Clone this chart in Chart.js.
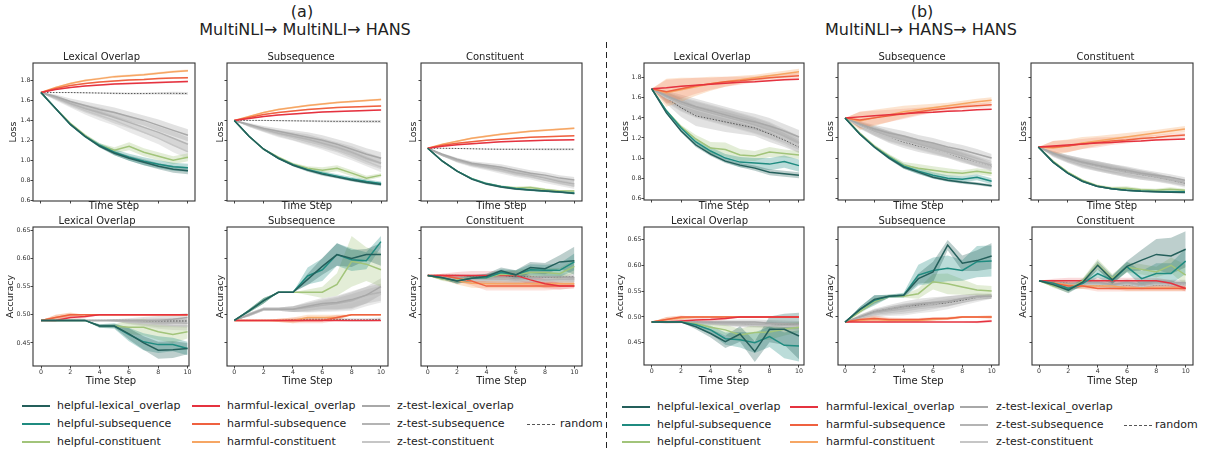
<!DOCTYPE html>
<html>
<head>
<meta charset="utf-8">
<script src="https://cdn.jsdelivr.net/npm/chart.js@4.4.1/dist/chart.umd.min.js"></script>
<style>
  body { margin: 0; background: #fff; font-family: "DejaVu Sans", sans-serif; }
  #page { position: relative; width: 1210px; height: 457px; overflow: hidden; background: #fff; }
  #page canvas { position: absolute; }
  .txt { position: absolute; white-space: nowrap; color: #222; line-height: 1; }
  .leg { position: absolute; white-space: nowrap; font-size: 11px; color: #222; line-height: 12px; }
  .leg i { position: absolute; top: 5px; width: 28px; height: 2px; }
</style>
</head>
<body>
<div id="page">
  <div class="txt" style="left:302px;top:4px;font-size:16px;transform:translateX(-50%)">(a)</div>
  <div class="txt" style="left:305px;top:22px;font-size:16px;transform:translateX(-50%)">MultiNLI→ MultiNLI→ HANS</div>
  <div class="txt" style="left:922px;top:4px;font-size:16px;transform:translateX(-50%)">(b)</div>
  <div class="txt" style="left:921px;top:22px;font-size:16px;transform:translateX(-50%)">MultiNLI→ HANS→ HANS</div>
  <svg style="position:absolute;left:0;top:0" width="1210" height="457">
    <line x1="606.5" y1="42" x2="606.5" y2="452" stroke="#222" stroke-width="1" stroke-dasharray="6,4"/>
  </svg>
</div>
<script>
// series order used by every panel below
const seriesNames = [
  'helpful-lexical_overlap', 'helpful-subsequence', 'helpful-constituent',
  'harmful-lexical_overlap', 'harmful-subsequence', 'harmful-constituent',
  'z-test-lexical_overlap', 'z-test-subsequence', 'z-test-constituent', 'random'
]
const seriesColors = ['#245f5b', '#1f8b80', '#a2c47a', '#e5323f', '#ef6140', '#f6a664', '#a8a8a8', '#b4b4b4', '#c6c6c6', '#555555']
const bandColors = [
  'rgba(36,95,91,0.30)', 'rgba(31,139,128,0.30)', 'rgba(162,196,122,0.30)',
  'rgba(229,50,63,0.18)', 'rgba(239,97,64,0.18)', 'rgba(246,166,100,0.30)',
  'rgba(150,150,150,0.28)', 'rgba(160,160,160,0.28)', 'rgba(175,175,175,0.28)', 'rgba(150,150,150,0.28)'
]

const timeSteps = [0, 1, 2, 3, 4, 5, 6, 7, 8, 9, 10]
const stepTicks = [0, 2, 4, 6, 8, 10]
const lossTicks = [0.6, 0.8, 1.0, 1.2, 1.4, 1.6, 1.8]
const accTicks = [0.45, 0.50, 0.55, 0.60, 0.65]
const subTitles = ['Lexical Overlap', 'Subsequence', 'Constituent']

// (a) MultiNLI -> MultiNLI -> HANS, loss
const aLossLex = [
  [1.68, 1.52, 1.36, 1.24, 1.14, 1.07, 1.02, 0.98, 0.94, 0.91, 0.895],
  [1.68, 1.52, 1.36, 1.24, 1.15, 1.08, 1.03, 0.99, 0.96, 0.935, 0.925],
  [1.68, 1.52, 1.37, 1.25, 1.15, 1.10, 1.14, 1.08, 1.04, 1.00, 1.03],
  [1.68, 1.71, 1.73, 1.745, 1.755, 1.765, 1.77, 1.775, 1.78, 1.785, 1.79],
  [1.68, 1.72, 1.75, 1.77, 1.785, 1.795, 1.805, 1.81, 1.82, 1.825, 1.83],
  [1.68, 1.73, 1.77, 1.80, 1.82, 1.84, 1.85, 1.86, 1.875, 1.89, 1.90],
  [1.68, 1.64, 1.59, 1.55, 1.51, 1.48, 1.44, 1.40, 1.35, 1.30, 1.25],
  [1.68, 1.63, 1.57, 1.52, 1.48, 1.43, 1.38, 1.33, 1.28, 1.22, 1.16],
  [1.68, 1.62, 1.56, 1.50, 1.45, 1.40, 1.34, 1.28, 1.22, 1.15, 1.085],
  [1.68, 1.68, 1.68, 1.678, 1.675, 1.672, 1.67, 1.67, 1.672, 1.672, 1.67]
]
const aLossLexSd = [
  [0, 0.005, 0.01, 0.01, 0.015, 0.02, 0.025, 0.03, 0.03, 0.035, 0.035],
  [0, 0.005, 0.01, 0.015, 0.02, 0.03, 0.035, 0.04, 0.04, 0.04, 0.04],
  [0, 0.005, 0.01, 0.015, 0.02, 0.03, 0.04, 0.04, 0.04, 0.04, 0.04],
  [0, 0.005, 0.005, 0.007, 0.008, 0.01, 0.01, 0.01, 0.01, 0.01, 0.01],
  [0, 0.005, 0.005, 0.007, 0.008, 0.01, 0.01, 0.01, 0.01, 0.01, 0.01],
  [0, 0.008, 0.01, 0.012, 0.012, 0.012, 0.012, 0.012, 0.012, 0.012, 0.012],
  [0, 0.02, 0.03, 0.04, 0.05, 0.05, 0.05, 0.05, 0.06, 0.06, 0.06],
  [0, 0.02, 0.03, 0.04, 0.05, 0.06, 0.06, 0.06, 0.06, 0.07, 0.07],
  [0, 0.02, 0.03, 0.04, 0.05, 0.05, 0.06, 0.06, 0.06, 0.07, 0.07],
  [0, 0.003, 0.005, 0.007, 0.008, 0.01, 0.01, 0.01, 0.012, 0.015, 0.015]
]
const aLossSub = [
  [1.40, 1.24, 1.11, 1.02, 0.95, 0.90, 0.86, 0.83, 0.80, 0.775, 0.755],
  [1.40, 1.24, 1.11, 1.02, 0.955, 0.905, 0.87, 0.84, 0.81, 0.785, 0.765],
  [1.40, 1.24, 1.11, 1.03, 0.96, 0.92, 0.90, 0.92, 0.87, 0.82, 0.85],
  [1.40, 1.42, 1.44, 1.455, 1.465, 1.475, 1.485, 1.49, 1.495, 1.50, 1.505],
  [1.40, 1.43, 1.46, 1.48, 1.495, 1.51, 1.52, 1.53, 1.535, 1.54, 1.545],
  [1.40, 1.44, 1.48, 1.51, 1.53, 1.55, 1.565, 1.58, 1.59, 1.60, 1.61],
  [1.40, 1.36, 1.32, 1.29, 1.26, 1.23, 1.20, 1.16, 1.11, 1.06, 1.02],
  [1.40, 1.35, 1.31, 1.27, 1.24, 1.21, 1.17, 1.13, 1.08, 1.02, 0.97],
  [1.40, 1.35, 1.30, 1.26, 1.23, 1.19, 1.15, 1.10, 1.05, 0.99, 0.93],
  [1.40, 1.40, 1.40, 1.398, 1.396, 1.394, 1.392, 1.39, 1.39, 1.39, 1.39]
]
const aLossSubSd = [
  [0, 0.005, 0.008, 0.01, 0.012, 0.015, 0.015, 0.015, 0.015, 0.015, 0.015],
  [0, 0.005, 0.008, 0.01, 0.012, 0.015, 0.018, 0.02, 0.02, 0.02, 0.02],
  [0, 0.005, 0.008, 0.01, 0.015, 0.02, 0.03, 0.03, 0.03, 0.025, 0.02],
  [0, 0.004, 0.005, 0.006, 0.007, 0.008, 0.008, 0.008, 0.008, 0.008, 0.008],
  [0, 0.004, 0.005, 0.006, 0.007, 0.008, 0.008, 0.008, 0.008, 0.008, 0.008],
  [0, 0.006, 0.008, 0.01, 0.01, 0.01, 0.01, 0.01, 0.01, 0.01, 0.01],
  [0, 0.015, 0.025, 0.03, 0.04, 0.05, 0.05, 0.05, 0.06, 0.06, 0.06],
  [0, 0.015, 0.025, 0.03, 0.04, 0.05, 0.05, 0.05, 0.06, 0.06, 0.06],
  [0, 0.015, 0.02, 0.03, 0.035, 0.04, 0.045, 0.05, 0.05, 0.05, 0.05],
  [0, 0.003, 0.005, 0.006, 0.008, 0.01, 0.01, 0.012, 0.012, 0.015, 0.015]
]
const aLossCon = [
  [1.12, 0.99, 0.89, 0.81, 0.76, 0.73, 0.71, 0.70, 0.69, 0.68, 0.665],
  [1.12, 0.99, 0.89, 0.815, 0.765, 0.735, 0.715, 0.70, 0.69, 0.68, 0.67],
  [1.12, 0.99, 0.89, 0.815, 0.765, 0.735, 0.72, 0.725, 0.705, 0.69, 0.69],
  [1.12, 1.14, 1.155, 1.165, 1.175, 1.185, 1.19, 1.195, 1.20, 1.203, 1.205],
  [1.12, 1.15, 1.17, 1.185, 1.20, 1.21, 1.22, 1.23, 1.235, 1.24, 1.245],
  [1.12, 1.16, 1.19, 1.22, 1.24, 1.26, 1.275, 1.29, 1.30, 1.31, 1.32],
  [1.12, 1.06, 1.01, 0.97, 0.95, 0.93, 0.90, 0.87, 0.85, 0.82, 0.80],
  [1.12, 1.05, 1.00, 0.96, 0.935, 0.91, 0.875, 0.85, 0.82, 0.785, 0.76],
  [1.12, 1.05, 0.99, 0.95, 0.925, 0.895, 0.86, 0.835, 0.80, 0.77, 0.74],
  [1.12, 1.12, 1.118, 1.115, 1.112, 1.11, 1.11, 1.11, 1.11, 1.11, 1.11]
]
const aLossConSd = [
  [0, 0.004, 0.006, 0.008, 0.01, 0.01, 0.01, 0.01, 0.01, 0.01, 0.01],
  [0, 0.004, 0.006, 0.008, 0.01, 0.01, 0.01, 0.01, 0.01, 0.01, 0.01],
  [0, 0.004, 0.006, 0.008, 0.01, 0.012, 0.015, 0.015, 0.012, 0.01, 0.01],
  [0, 0.004, 0.005, 0.006, 0.006, 0.006, 0.006, 0.006, 0.006, 0.006, 0.006],
  [0, 0.004, 0.005, 0.006, 0.006, 0.006, 0.006, 0.006, 0.006, 0.006, 0.006],
  [0, 0.006, 0.008, 0.01, 0.01, 0.01, 0.01, 0.01, 0.01, 0.01, 0.01],
  [0, 0.01, 0.015, 0.02, 0.025, 0.03, 0.03, 0.03, 0.03, 0.03, 0.03],
  [0, 0.01, 0.015, 0.02, 0.025, 0.03, 0.03, 0.03, 0.03, 0.03, 0.03],
  [0, 0.01, 0.015, 0.02, 0.025, 0.03, 0.03, 0.03, 0.03, 0.03, 0.03],
  [0, 0.003, 0.004, 0.005, 0.006, 0.007, 0.008, 0.008, 0.01, 0.01, 0.01]
]

// (a) accuracy
const aAccLex = [
  [0.49, 0.49, 0.49, 0.49, 0.48, 0.48, 0.466, 0.45, 0.437, 0.438, 0.44],
  [0.49, 0.49, 0.49, 0.49, 0.48, 0.48, 0.465, 0.452, 0.447, 0.447, 0.44],
  [0.49, 0.49, 0.49, 0.49, 0.48, 0.48, 0.478, 0.478, 0.47, 0.465, 0.47],
  [0.49, 0.49, 0.495, 0.497, 0.50, 0.50, 0.50, 0.50, 0.50, 0.50, 0.50],
  [0.49, 0.495, 0.50, 0.50, 0.50, 0.50, 0.50, 0.50, 0.50, 0.50, 0.50],
  [0.49, 0.495, 0.50, 0.50, 0.50, 0.50, 0.50, 0.50, 0.50, 0.50, 0.50],
  [0.49, 0.49, 0.49, 0.49, 0.49, 0.49, 0.49, 0.49, 0.49, 0.492, 0.495],
  [0.49, 0.49, 0.49, 0.49, 0.49, 0.49, 0.488, 0.487, 0.486, 0.486, 0.485],
  [0.49, 0.49, 0.49, 0.49, 0.49, 0.49, 0.487, 0.485, 0.483, 0.481, 0.48],
  [0.49, 0.49, 0.49, 0.49, 0.49, 0.49, 0.49, 0.489, 0.489, 0.489, 0.489]
]
const aAccLexSd = [
  [0, 0, 0, 0, 0.003, 0.003, 0.01, 0.012, 0.015, 0.015, 0.01],
  [0, 0, 0, 0, 0.003, 0.005, 0.012, 0.015, 0.015, 0.012, 0.012],
  [0, 0, 0, 0, 0.002, 0.003, 0.012, 0.015, 0.015, 0.015, 0.012],
  [0, 0.003, 0.005, 0.003, 0, 0, 0, 0, 0, 0, 0],
  [0, 0.005, 0.003, 0, 0, 0, 0, 0, 0, 0, 0],
  [0, 0.005, 0.004, 0, 0, 0, 0, 0, 0, 0, 0],
  [0, 0, 0, 0, 0, 0.002, 0.004, 0.006, 0.008, 0.008, 0.008],
  [0, 0, 0, 0, 0, 0.002, 0.004, 0.006, 0.008, 0.008, 0.008],
  [0, 0, 0, 0, 0, 0.002, 0.004, 0.006, 0.008, 0.008, 0.008],
  [0, 0, 0, 0, 0, 0.001, 0.002, 0.002, 0.003, 0.003, 0.003]
]
const aAccSub = [
  [0.49, 0.507, 0.525, 0.54, 0.54, 0.563, 0.586, 0.607, 0.60, 0.607, 0.607],
  [0.49, 0.507, 0.525, 0.54, 0.54, 0.569, 0.58, 0.607, 0.598, 0.596, 0.63],
  [0.49, 0.507, 0.525, 0.54, 0.54, 0.54, 0.54, 0.554, 0.595, 0.59, 0.58],
  [0.49, 0.49, 0.49, 0.49, 0.49, 0.49, 0.49, 0.49, 0.49, 0.49, 0.49],
  [0.49, 0.49, 0.49, 0.49, 0.49, 0.49, 0.49, 0.495, 0.50, 0.50, 0.50],
  [0.49, 0.49, 0.49, 0.49, 0.49, 0.495, 0.495, 0.495, 0.50, 0.50, 0.50],
  [0.49, 0.50, 0.51, 0.51, 0.51, 0.515, 0.52, 0.522, 0.527, 0.535, 0.55],
  [0.49, 0.50, 0.51, 0.51, 0.51, 0.513, 0.517, 0.52, 0.525, 0.535, 0.54],
  [0.49, 0.50, 0.51, 0.51, 0.51, 0.512, 0.515, 0.518, 0.522, 0.53, 0.537],
  [0.49, 0.49, 0.49, 0.49, 0.491, 0.492, 0.492, 0.492, 0.491, 0.491, 0.492]
]
const aAccSubSd = [
  [0, 0.003, 0.005, 0, 0, 0.01, 0.015, 0.02, 0.015, 0.01, 0.02],
  [0, 0.003, 0.005, 0, 0, 0.015, 0.02, 0.02, 0.02, 0.015, 0.01],
  [0, 0.003, 0.005, 0, 0, 0.005, 0.01, 0.02, 0.045, 0.03, 0.03],
  [0, 0, 0, 0, 0, 0, 0, 0, 0, 0, 0],
  [0, 0, 0, 0.003, 0.005, 0.005, 0.005, 0.005, 0, 0, 0],
  [0, 0, 0, 0.003, 0.005, 0.005, 0.005, 0.005, 0, 0, 0],
  [0, 0.003, 0.003, 0.003, 0.005, 0.008, 0.01, 0.012, 0.015, 0.015, 0.015],
  [0, 0.003, 0.003, 0.003, 0.005, 0.008, 0.01, 0.012, 0.015, 0.015, 0.015],
  [0, 0.003, 0.003, 0.003, 0.005, 0.008, 0.01, 0.012, 0.015, 0.015, 0.015],
  [0, 0, 0, 0, 0.002, 0.003, 0.003, 0.003, 0.003, 0.003, 0.003]
]
const aAccCon = [
  [0.57, 0.566, 0.56, 0.565, 0.568, 0.578, 0.571, 0.584, 0.582, 0.594, 0.596],
  [0.57, 0.566, 0.56, 0.565, 0.566, 0.575, 0.571, 0.58, 0.579, 0.579, 0.594],
  [0.57, 0.563, 0.562, 0.565, 0.566, 0.572, 0.571, 0.575, 0.575, 0.573, 0.586],
  [0.57, 0.57, 0.57, 0.57, 0.57, 0.57, 0.57, 0.562, 0.555, 0.551, 0.551],
  [0.57, 0.57, 0.565, 0.56, 0.551, 0.551, 0.551, 0.551, 0.551, 0.551, 0.551],
  [0.57, 0.565, 0.56, 0.556, 0.555, 0.555, 0.555, 0.555, 0.555, 0.555, 0.555],
  [0.57, 0.568, 0.566, 0.565, 0.566, 0.568, 0.565, 0.566, 0.568, 0.567, 0.566],
  [0.57, 0.567, 0.564, 0.563, 0.563, 0.564, 0.562, 0.563, 0.562, 0.563, 0.563],
  [0.57, 0.566, 0.562, 0.561, 0.562, 0.561, 0.56, 0.561, 0.56, 0.561, 0.56],
  [0.57, 0.57, 0.57, 0.569, 0.569, 0.568, 0.568, 0.567, 0.567, 0.567, 0.567]
]
const aAccConSd = [
  [0, 0.003, 0.005, 0.005, 0.005, 0.006, 0.008, 0.01, 0.01, 0.012, 0.025],
  [0, 0.003, 0.005, 0.005, 0.005, 0.006, 0.008, 0.01, 0.01, 0.012, 0.015],
  [0, 0.003, 0.005, 0.005, 0.005, 0.006, 0.008, 0.008, 0.008, 0.01, 0.012],
  [0, 0.003, 0.006, 0.008, 0.008, 0.008, 0.008, 0.008, 0.008, 0.006, 0.004],
  [0, 0.003, 0.006, 0.008, 0.008, 0.008, 0.008, 0.008, 0.008, 0.006, 0.004],
  [0, 0.003, 0.006, 0.008, 0.008, 0.008, 0.008, 0.008, 0.008, 0.006, 0.004],
  [0, 0.003, 0.005, 0.006, 0.007, 0.007, 0.007, 0.007, 0.007, 0.007, 0.007],
  [0, 0.003, 0.005, 0.006, 0.007, 0.007, 0.007, 0.007, 0.007, 0.007, 0.007],
  [0, 0.003, 0.005, 0.006, 0.007, 0.007, 0.007, 0.007, 0.007, 0.007, 0.007],
  [0, 0.001, 0.002, 0.002, 0.002, 0.002, 0.002, 0.002, 0.002, 0.002, 0.002]
]

// (b) MultiNLI -> HANS -> HANS, loss
const bLossLex = [
  [1.69, 1.45, 1.27, 1.13, 1.04, 0.97, 0.93, 0.90, 0.86, 0.845, 0.83],
  [1.69, 1.47, 1.30, 1.16, 1.07, 1.00, 0.96, 0.95, 0.94, 0.965, 0.925],
  [1.69, 1.47, 1.31, 1.19, 1.10, 1.085, 1.03, 1.02, 1.06, 1.045, 1.03],
  [1.69, 1.70, 1.715, 1.725, 1.735, 1.745, 1.755, 1.76, 1.77, 1.78, 1.785],
  [1.69, 1.66, 1.69, 1.72, 1.74, 1.76, 1.77, 1.785, 1.80, 1.81, 1.82],
  [1.69, 1.65, 1.68, 1.71, 1.74, 1.76, 1.78, 1.80, 1.82, 1.84, 1.86],
  [1.69, 1.62, 1.56, 1.51, 1.47, 1.43, 1.39, 1.36, 1.32, 1.27, 1.21],
  [1.69, 1.61, 1.54, 1.49, 1.45, 1.41, 1.37, 1.33, 1.28, 1.22, 1.15],
  [1.69, 1.60, 1.53, 1.48, 1.44, 1.40, 1.36, 1.32, 1.27, 1.20, 1.12],
  [1.69, 1.60, 1.50, 1.42, 1.39, 1.36, 1.33, 1.30, 1.24, 1.18, 1.11]
]
const bLossLexSd = [
  [0, 0.01, 0.015, 0.02, 0.02, 0.02, 0.02, 0.025, 0.03, 0.03, 0.03],
  [0, 0.01, 0.02, 0.03, 0.04, 0.04, 0.05, 0.05, 0.06, 0.06, 0.06],
  [0, 0.01, 0.02, 0.04, 0.06, 0.07, 0.06, 0.05, 0.05, 0.04, 0.04],
  [0, 0.005, 0.005, 0.005, 0.005, 0.005, 0.005, 0.005, 0.005, 0.005, 0.005],
  [0, 0.12, 0.10, 0.08, 0.06, 0.05, 0.04, 0.03, 0.03, 0.03, 0.03],
  [0, 0.14, 0.12, 0.09, 0.07, 0.05, 0.04, 0.03, 0.03, 0.03, 0.03],
  [0, 0.05, 0.07, 0.08, 0.08, 0.08, 0.08, 0.08, 0.08, 0.07, 0.07],
  [0, 0.05, 0.07, 0.08, 0.08, 0.08, 0.08, 0.08, 0.08, 0.07, 0.07],
  [0, 0.05, 0.07, 0.08, 0.08, 0.08, 0.08, 0.08, 0.08, 0.07, 0.07],
  [0, 0.06, 0.09, 0.10, 0.10, 0.10, 0.09, 0.08, 0.08, 0.07, 0.06]
]
const bLossSub = [
  [1.40, 1.24, 1.11, 1.00, 0.91, 0.86, 0.81, 0.78, 0.76, 0.745, 0.725],
  [1.40, 1.24, 1.11, 1.01, 0.92, 0.87, 0.83, 0.80, 0.79, 0.81, 0.77],
  [1.40, 1.25, 1.12, 1.02, 0.93, 0.90, 0.88, 0.86, 0.85, 0.87, 0.85],
  [1.40, 1.41, 1.42, 1.43, 1.44, 1.45, 1.455, 1.465, 1.47, 1.48, 1.485],
  [1.40, 1.38, 1.40, 1.42, 1.44, 1.46, 1.48, 1.495, 1.51, 1.52, 1.53],
  [1.40, 1.37, 1.40, 1.43, 1.46, 1.48, 1.50, 1.52, 1.54, 1.56, 1.575],
  [1.40, 1.34, 1.29, 1.25, 1.22, 1.18, 1.15, 1.11, 1.08, 1.04, 1.00],
  [1.40, 1.33, 1.27, 1.22, 1.18, 1.14, 1.10, 1.06, 1.02, 0.97, 0.93],
  [1.40, 1.32, 1.26, 1.21, 1.17, 1.13, 1.09, 1.05, 1.01, 0.96, 0.91],
  [1.40, 1.33, 1.27, 1.21, 1.16, 1.12, 1.09, 1.05, 1.00, 0.96, 0.915]
]
const bLossSubSd = [
  [0, 0.01, 0.01, 0.015, 0.015, 0.015, 0.015, 0.015, 0.015, 0.015, 0.015],
  [0, 0.01, 0.015, 0.02, 0.025, 0.03, 0.03, 0.03, 0.03, 0.03, 0.03],
  [0, 0.01, 0.015, 0.02, 0.03, 0.04, 0.04, 0.04, 0.03, 0.03, 0.03],
  [0, 0.004, 0.004, 0.004, 0.004, 0.004, 0.004, 0.004, 0.004, 0.004, 0.004],
  [0, 0.08, 0.07, 0.06, 0.05, 0.04, 0.03, 0.03, 0.025, 0.025, 0.025],
  [0, 0.09, 0.08, 0.07, 0.06, 0.05, 0.04, 0.03, 0.03, 0.03, 0.03],
  [0, 0.03, 0.04, 0.05, 0.05, 0.05, 0.05, 0.05, 0.05, 0.05, 0.04],
  [0, 0.03, 0.04, 0.05, 0.05, 0.05, 0.05, 0.05, 0.05, 0.05, 0.04],
  [0, 0.03, 0.04, 0.05, 0.05, 0.05, 0.05, 0.05, 0.05, 0.05, 0.04],
  [0, 0.03, 0.05, 0.06, 0.06, 0.06, 0.06, 0.05, 0.05, 0.04, 0.04]
]
const bLossCon = [
  [1.11, 0.96, 0.85, 0.77, 0.72, 0.695, 0.68, 0.67, 0.665, 0.66, 0.657],
  [1.11, 0.96, 0.85, 0.77, 0.72, 0.695, 0.68, 0.672, 0.668, 0.665, 0.665],
  [1.11, 0.97, 0.86, 0.78, 0.725, 0.70, 0.70, 0.685, 0.68, 0.69, 0.68],
  [1.11, 1.12, 1.13, 1.14, 1.15, 1.155, 1.165, 1.17, 1.18, 1.185, 1.19],
  [1.11, 1.11, 1.12, 1.14, 1.155, 1.17, 1.18, 1.195, 1.205, 1.22, 1.23],
  [1.11, 1.10, 1.12, 1.15, 1.17, 1.19, 1.21, 1.23, 1.25, 1.27, 1.29],
  [1.11, 1.05, 1.00, 0.96, 0.93, 0.90, 0.88, 0.85, 0.83, 0.81, 0.78],
  [1.11, 1.04, 0.99, 0.95, 0.92, 0.89, 0.86, 0.84, 0.815, 0.785, 0.755],
  [1.11, 1.04, 0.985, 0.945, 0.91, 0.88, 0.85, 0.825, 0.80, 0.77, 0.735],
  [1.11, 1.04, 0.99, 0.95, 0.92, 0.89, 0.86, 0.83, 0.81, 0.78, 0.75]
]
const bLossConSd = [
  [0, 0.005, 0.007, 0.008, 0.008, 0.008, 0.008, 0.008, 0.008, 0.008, 0.008],
  [0, 0.005, 0.007, 0.008, 0.008, 0.008, 0.01, 0.01, 0.01, 0.012, 0.012],
  [0, 0.005, 0.008, 0.01, 0.012, 0.015, 0.02, 0.015, 0.015, 0.02, 0.015],
  [0, 0.004, 0.004, 0.004, 0.004, 0.004, 0.004, 0.004, 0.004, 0.004, 0.004],
  [0, 0.06, 0.06, 0.05, 0.05, 0.04, 0.035, 0.03, 0.025, 0.025, 0.025],
  [0, 0.07, 0.065, 0.06, 0.05, 0.045, 0.04, 0.035, 0.03, 0.03, 0.03],
  [0, 0.02, 0.03, 0.035, 0.04, 0.04, 0.04, 0.04, 0.035, 0.03, 0.03],
  [0, 0.02, 0.03, 0.035, 0.04, 0.04, 0.04, 0.04, 0.035, 0.03, 0.03],
  [0, 0.02, 0.03, 0.035, 0.04, 0.04, 0.04, 0.04, 0.035, 0.03, 0.03],
  [0, 0.03, 0.04, 0.05, 0.05, 0.05, 0.05, 0.045, 0.04, 0.035, 0.03]
]

// (b) accuracy
const bAccLex = [
  [0.49, 0.49, 0.49, 0.481, 0.468, 0.452, 0.467, 0.433, 0.476, 0.476, 0.463],
  [0.49, 0.49, 0.49, 0.485, 0.475, 0.458, 0.456, 0.45, 0.462, 0.445, 0.444],
  [0.49, 0.49, 0.49, 0.487, 0.48, 0.475, 0.465, 0.47, 0.471, 0.476, 0.48],
  [0.49, 0.49, 0.492, 0.494, 0.495, 0.497, 0.50, 0.50, 0.50, 0.50, 0.50],
  [0.49, 0.495, 0.50, 0.50, 0.50, 0.50, 0.50, 0.50, 0.50, 0.50, 0.50],
  [0.49, 0.495, 0.498, 0.50, 0.50, 0.50, 0.50, 0.50, 0.50, 0.50, 0.50],
  [0.49, 0.49, 0.49, 0.49, 0.49, 0.49, 0.49, 0.49, 0.488, 0.487, 0.486],
  [0.49, 0.49, 0.49, 0.489, 0.488, 0.487, 0.487, 0.486, 0.485, 0.484, 0.483],
  [0.49, 0.49, 0.49, 0.489, 0.487, 0.486, 0.485, 0.484, 0.483, 0.482, 0.481],
  [0.49, 0.49, 0.49, 0.49, 0.488, 0.487, 0.486, 0.485, 0.485, 0.484, 0.484]
]
const bAccLexSd = [
  [0, 0, 0, 0.005, 0.008, 0.012, 0.015, 0.02, 0.025, 0.03, 0.045],
  [0, 0, 0, 0.004, 0.008, 0.012, 0.015, 0.02, 0.02, 0.025, 0.03],
  [0, 0, 0, 0.003, 0.007, 0.01, 0.012, 0.015, 0.015, 0.012, 0.01],
  [0, 0.003, 0.004, 0.004, 0.004, 0.003, 0, 0, 0, 0, 0],
  [0, 0.005, 0.003, 0, 0, 0, 0, 0, 0, 0, 0],
  [0, 0.005, 0.004, 0.002, 0, 0, 0, 0, 0, 0, 0],
  [0, 0, 0, 0.002, 0.003, 0.004, 0.005, 0.005, 0.006, 0.006, 0.006],
  [0, 0, 0, 0.002, 0.003, 0.004, 0.005, 0.005, 0.006, 0.006, 0.006],
  [0, 0, 0, 0.002, 0.003, 0.004, 0.005, 0.005, 0.006, 0.006, 0.006],
  [0, 0, 0, 0.002, 0.003, 0.003, 0.004, 0.004, 0.004, 0.004, 0.004]
]
const bAccSub = [
  [0.49, 0.514, 0.534, 0.54, 0.542, 0.574, 0.587, 0.639, 0.604, 0.609, 0.618],
  [0.49, 0.514, 0.532, 0.54, 0.542, 0.581, 0.59, 0.594, 0.59, 0.607, 0.608],
  [0.49, 0.51, 0.53, 0.54, 0.54, 0.545, 0.568, 0.564, 0.558, 0.552, 0.55],
  [0.49, 0.49, 0.49, 0.49, 0.49, 0.49, 0.49, 0.49, 0.49, 0.49, 0.492],
  [0.49, 0.495, 0.497, 0.495, 0.495, 0.495, 0.497, 0.497, 0.50, 0.50, 0.50],
  [0.49, 0.493, 0.495, 0.493, 0.493, 0.493, 0.495, 0.497, 0.50, 0.50, 0.50],
  [0.49, 0.50, 0.51, 0.515, 0.52, 0.525, 0.528, 0.53, 0.535, 0.54, 0.54],
  [0.49, 0.50, 0.508, 0.512, 0.516, 0.52, 0.525, 0.53, 0.535, 0.538, 0.54],
  [0.49, 0.498, 0.505, 0.51, 0.513, 0.517, 0.52, 0.525, 0.53, 0.535, 0.54],
  [0.49, 0.50, 0.51, 0.515, 0.52, 0.523, 0.525, 0.527, 0.532, 0.537, 0.54]
]
const bAccSubSd = [
  [0, 0.005, 0.008, 0.003, 0.003, 0.01, 0.02, 0.01, 0.015, 0.02, 0.025],
  [0, 0.005, 0.01, 0.003, 0.005, 0.02, 0.025, 0.025, 0.02, 0.03, 0.03],
  [0, 0.004, 0.006, 0.003, 0.003, 0.01, 0.015, 0.02, 0.015, 0.01, 0.01],
  [0, 0, 0, 0, 0, 0, 0, 0, 0, 0.002, 0.003],
  [0, 0.004, 0.006, 0.004, 0.003, 0.003, 0.003, 0.003, 0.002, 0.002, 0.003],
  [0, 0.004, 0.006, 0.004, 0.003, 0.003, 0.003, 0.003, 0.002, 0.002, 0.003],
  [0, 0.004, 0.006, 0.008, 0.01, 0.01, 0.01, 0.01, 0.008, 0.006, 0.005],
  [0, 0.004, 0.006, 0.008, 0.01, 0.01, 0.01, 0.01, 0.008, 0.006, 0.005],
  [0, 0.004, 0.006, 0.008, 0.01, 0.01, 0.01, 0.01, 0.008, 0.006, 0.005],
  [0, 0.003, 0.004, 0.005, 0.005, 0.005, 0.005, 0.005, 0.005, 0.004, 0.004]
]
const bAccCon = [
  [0.57, 0.562, 0.552, 0.568, 0.60, 0.572, 0.598, 0.61, 0.621, 0.618, 0.631],
  [0.57, 0.565, 0.555, 0.565, 0.584, 0.571, 0.597, 0.574, 0.584, 0.584, 0.608],
  [0.57, 0.56, 0.553, 0.57, 0.602, 0.575, 0.596, 0.592, 0.587, 0.60, 0.581],
  [0.57, 0.57, 0.57, 0.57, 0.57, 0.57, 0.57, 0.57, 0.57, 0.565, 0.555],
  [0.57, 0.565, 0.56, 0.56, 0.555, 0.555, 0.555, 0.555, 0.555, 0.555, 0.555],
  [0.57, 0.566, 0.562, 0.56, 0.56, 0.56, 0.556, 0.556, 0.556, 0.556, 0.556],
  [0.57, 0.567, 0.564, 0.566, 0.567, 0.563, 0.567, 0.563, 0.567, 0.566, 0.566],
  [0.57, 0.566, 0.562, 0.564, 0.565, 0.561, 0.565, 0.561, 0.565, 0.564, 0.564],
  [0.57, 0.565, 0.56, 0.562, 0.563, 0.559, 0.563, 0.559, 0.563, 0.562, 0.562],
  [0.57, 0.567, 0.565, 0.563, 0.562, 0.56, 0.562, 0.56, 0.562, 0.562, 0.563]
]
const bAccConSd = [
  [0, 0.004, 0.006, 0.006, 0.008, 0.008, 0.01, 0.02, 0.03, 0.035, 0.035],
  [0, 0.004, 0.006, 0.006, 0.008, 0.008, 0.01, 0.015, 0.02, 0.02, 0.025],
  [0, 0.004, 0.006, 0.006, 0.01, 0.008, 0.01, 0.01, 0.01, 0.015, 0.02],
  [0, 0.004, 0.006, 0.006, 0.006, 0.006, 0.006, 0.006, 0.006, 0.006, 0.006],
  [0, 0.004, 0.006, 0.006, 0.006, 0.006, 0.006, 0.006, 0.006, 0.006, 0.006],
  [0, 0.004, 0.006, 0.006, 0.006, 0.006, 0.006, 0.006, 0.006, 0.006, 0.006],
  [0, 0.004, 0.005, 0.006, 0.006, 0.006, 0.006, 0.006, 0.006, 0.006, 0.006],
  [0, 0.004, 0.005, 0.006, 0.006, 0.006, 0.006, 0.006, 0.006, 0.006, 0.006],
  [0, 0.004, 0.005, 0.006, 0.006, 0.006, 0.006, 0.006, 0.006, 0.006, 0.006],
  [0, 0.002, 0.003, 0.003, 0.003, 0.003, 0.003, 0.003, 0.003, 0.003, 0.003]
]

// panel placement: box = plot frame [left, top, right, bottom] in page px
const panels = [
  { box: [33, 63, 195, 201], yTitleX: 13.3, y: 'Loss', ticks: lossTicks, yr: [0.59, 1.977], xr: [-0.54, 10.48], yLab: true, xLab: false, t: 0, m: aLossLex, s: aLossLexSd },
  { box: [227, 63, 387, 201], yTitleX: 220.7, y: 'Loss', ticks: lossTicks, yr: [0.59, 1.977], xr: [-0.5, 10.4], yLab: false, xLab: false, t: 1, m: aLossSub, s: aLossSubSd },
  { box: [421, 63, 582, 201], yTitleX: 413.3, y: 'Loss', ticks: lossTicks, yr: [0.59, 1.977], xr: [-0.46, 10.52], yLab: false, xLab: false, t: 2, m: aLossCon, s: aLossConSd },
  { box: [33, 227, 189, 366], yTitleX: 11, y: 'Accuracy', ticks: accTicks, yr: [0.409, 0.656], xr: [-0.55, 10.1], yLab: true, xLab: true, t: 0, m: aAccLex, s: aAccLexSd },
  { box: [227, 227, 388, 366], yTitleX: 220.7, y: 'Accuracy', ticks: accTicks, yr: [0.409, 0.656], xr: [-0.5, 10.48], yLab: false, xLab: true, t: 1, m: aAccSub, s: aAccSubSd },
  { box: [421, 227, 582, 366], yTitleX: 413.3, y: 'Accuracy', ticks: accTicks, yr: [0.409, 0.656], xr: [-0.46, 10.52], yLab: false, xLab: true, t: 2, m: aAccCon, s: aAccConSd },
  { box: [644, 63, 804, 200], yTitleX: 626, y: 'Loss', ticks: lossTicks, yr: [0.583, 1.946], xr: [-0.52, 10.34], yLab: true, xLab: false, t: 0, m: bLossLex, s: bLossLexSd },
  { box: [838, 63, 999, 200], yTitleX: 831, y: 'Loss', ticks: lossTicks, yr: [0.583, 1.946], xr: [-0.48, 10.5], yLab: false, xLab: false, t: 1, m: bLossSub, s: bLossSubSd },
  { box: [1031, 63, 1193, 200], yTitleX: 1024, y: 'Loss', ticks: lossTicks, yr: [0.583, 1.946], xr: [-0.5, 10.55], yLab: false, xLab: false, t: 2, m: bLossCon, s: bLossConSd },
  { box: [644, 227, 804, 365], yTitleX: 620.7, y: 'Accuracy', ticks: accTicks, yr: [0.407, 0.674], xr: [-0.52, 10.34], yLab: true, xLab: true, t: 0, m: bAccLex, s: bAccLexSd },
  { box: [838, 227, 999, 365], yTitleX: 831, y: 'Accuracy', ticks: accTicks, yr: [0.407, 0.674], xr: [-0.48, 10.5], yLab: false, xLab: true, t: 1, m: bAccSub, s: bAccSubSd },
  { box: [1032, 227, 1193, 365], yTitleX: 1024, y: 'Accuracy', ticks: accTicks, yr: [0.407, 0.674], xr: [-0.48, 10.5], yLab: false, xLab: true, t: 2, m: bAccCon, s: bAccConSd }
]

Chart.defaults.font.family = "'DejaVu Sans', sans-serif"
Chart.defaults.color = '#333'

const framePlugin = {
  id: 'frame',
  afterDraw(chart) {
    const { ctx, chartArea: a } = chart
    ctx.save()
    ctx.strokeStyle = '#333'
    ctx.lineWidth = 1.1
    ctx.strokeRect(a.left, a.top, a.right - a.left, a.bottom - a.top)
    ctx.restore()
  }
}

const pts = vals => vals.map((v, i) => ({ x: timeSteps[i], y: v }))

var buildDatasets = (means, sds) => {
  const lines = []
  const bands = []
  means.forEach((vals, i) => {
    const isRandom = i === 9
    lines.push({
      data: pts(vals), borderColor: seriesColors[i], borderWidth: isRandom ? 1 : 1.5,
      borderDash: isRandom ? [1.5, 1.5] : [], pointRadius: 0, fill: false, tension: 0, order: 0
    })
    bands.push({
      data: pts(vals.map((v, k) => v + sds[i][k])), borderWidth: 0, pointRadius: 0,
      backgroundColor: bandColors[i], fill: '+1', tension: 0, order: 1
    })
    bands.push({
      data: pts(vals.map((v, k) => v - sds[i][k])), borderWidth: 0, pointRadius: 0,
      fill: false, tension: 0, order: 1
    })
  })
  return lines.concat(bands)
}

const page = document.getElementById('page')

panels.forEach(p => {
  const [bl, bt, br, bb] = p.box
  const row2 = bt > 150
  const left = Math.round(p.yTitleX - 5.7)
  const top = bt - 13
  const right = br + 8
  const bottom = Math.round(row2 ? 386.7 : 211.7)
  const w = right - left
  const h = bottom - top
  const cv = document.createElement('canvas')
  cv.width = w
  cv.height = h
  cv.style.left = left + 'px'
  cv.style.top = top + 'px'
  cv.style.width = w + 'px'
  cv.style.height = h + 'px'
  page.appendChild(cv)

  new Chart(cv, {
    type: 'line',
    data: { datasets: buildDatasets(p.m, p.s) },
    plugins: [framePlugin],
    options: {
      responsive: false,
      animation: false,
      events: [],
      layout: { padding: { top: 2, right: 8, left: 0, bottom: 0 } },
      plugins: {
        legend: { display: false },
        tooltip: { enabled: false },
        title: { display: true, text: subTitles[p.t], color: '#222', padding: 0, font: { size: 10, lineHeight: 1.1, weight: 'normal' } }
      },
      scales: {
        x: {
          type: 'linear', min: p.xr[0], max: p.xr[1],
          afterBuildTicks: ax => { ax.ticks = stepTicks.map(v => ({ value: v })) },
          afterFit: ax => { ax.height = bottom - bb },
          grid: { drawOnChartArea: false, tickLength: 2.5, color: '#444' },
          border: { display: false },
          ticks: { font: { size: 6.3 }, padding: 0, maxRotation: 0, autoSkip: false, color: '#333',
            callback: v => (p.xLab ? String(v) : '') },
          title: { display: true, text: 'Time Step', color: '#222', padding: 0, font: { size: 10, lineHeight: 1.2 } }
        },
        y: {
          type: 'linear', min: p.yr[0], max: p.yr[1],
          afterBuildTicks: ax => { ax.ticks = p.ticks.map(v => ({ value: v })) },
          afterFit: ax => { ax.width = bl - left },
          grid: { drawOnChartArea: false, tickLength: 2.5, color: '#444' },
          border: { display: false },
          ticks: { font: { size: 6.3 }, padding: 0, autoSkip: false, color: '#333',
            callback: v => (p.yLab ? v.toFixed(p.y === 'Loss' ? 1 : 2) : '') },
          title: { display: true, text: p.y, color: '#222', padding: 0, font: { size: 9.5, lineHeight: 1.2 } }
        }
      }
    }
  })
})

// legends (HTML), one per group
const legendCols = [
  { samples: [22, 192, 362], texts: [57, 227, 397], rows: [406, 424, 442], rnd: [527, 560] },
  { samples: [622, 790, 960], texts: [657, 826, 996], rows: [407, 425, 442], rnd: [1124, 1155] }
]
legendCols.forEach(g => {
  for (let c = 0; c < 3; c++) {
    for (let r = 0; r < 3; r++) {
      const idx = c * 3 + r
      const el = document.createElement('div')
      el.className = 'leg'
      el.style.left = g.texts[c] + 'px'
      el.style.top = (g.rows[r] - 6) + 'px'
      el.textContent = seriesNames[idx]
      const ln = document.createElement('i')
      ln.style.left = (g.samples[c] - g.texts[c]) + 'px'
      ln.style.background = seriesColors[idx]
      el.appendChild(ln)
      page.appendChild(el)
    }
  }
  const el = document.createElement('div')
  el.className = 'leg'
  el.style.left = g.rnd[1] + 'px'
  el.style.top = (g.rows[1] - 6) + 'px'
  el.textContent = seriesNames[9]
  const ln = document.createElement('i')
  ln.style.left = (g.rnd[0] - g.rnd[1]) + 'px'
  ln.style.height = '0'
  ln.style.top = '6px'
  ln.style.borderTop = '1px dashed ' + seriesColors[9]
  el.appendChild(ln)
  page.appendChild(el)
})
</script>
</body>
</html>
